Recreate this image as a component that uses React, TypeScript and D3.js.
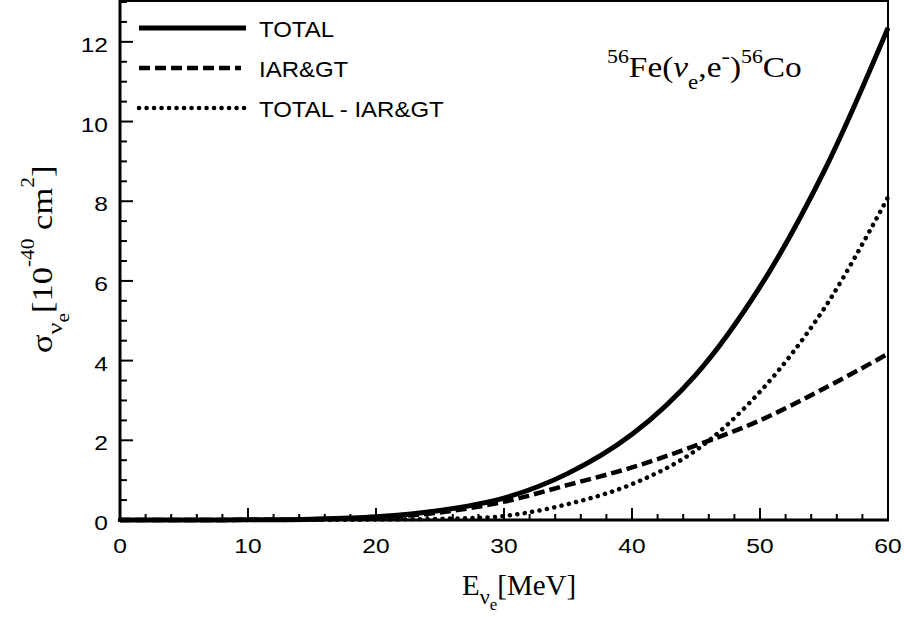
import * as d3 from "d3";

const energy = [0, 5, 10, 15, 20, 25, 30, 35, 40, 45, 50, 55, 60];
const total = [0, 0.001, 0.005, 0.02, 0.08, 0.24, 0.55, 1.17, 2.15, 3.65, 5.85, 8.75, 12.35];
const iarGt = [0, 0.001, 0.004, 0.015, 0.06, 0.19, 0.46, 0.88, 1.32, 1.87, 2.5, 3.3, 4.17];
const diff = [0, 0, 0.001, 0.004, 0.012, 0.03, 0.1, 0.4, 0.9, 1.75, 3.22, 5.3, 8.1];

const xTickLabels = [0, 10, 20, 30, 40, 50, 60];
const yTickLabels = [0, 2, 4, 6, 8, 10, 12];
const legendNames = ["TOTAL", "IAR&GT", "TOTAL - IAR&GT"];

const W = 904;
const H = 617;
const sans = "'Liberation Sans', Arial, Helvetica, sans-serif";
const serif = "'Liberation Serif', 'Times New Roman', serif";

export default function App() {
  const x = d3.scaleLinear([0, 60], [120, 888]);
  const y = d3.scaleLinear([0, 13], [520, 2]);

  const line = d3
    .line<number>()
    .x((_, i) => x(energy[i]))
    .y((d) => y(Math.max(0, d)))
    .curve(d3.curveCatmullRom.alpha(0.5));

  const styles = [
    { width: 5, dash: "none", cap: "butt" },
    { width: 4.5, dash: "11 5", cap: "butt" },
    { width: 4.5, dash: "0.1 7.4", cap: "round" },
  ];
  const series = [total, iarGt, diff];

  const xMinor = x.ticks(30);
  const yMinor = y.ticks(26);

  return (
    <svg
      width={W}
      height={H}
      viewBox={`0 0 ${W} ${H}`}
      style={{ position: "absolute", left: 0, top: 0, background: "#fff" }}
    >
      {/* curves */}
      <g fill="none" stroke="#000">
        {series.map((s, i) => (
          <path
            key={i}
            d={line(s) ?? ""}
            strokeWidth={styles[i].width}
            strokeDasharray={styles[i].dash}
            strokeLinecap={styles[i].cap as any}
          />
        ))}
      </g>

      {/* frame */}
      <rect x={120} y={1} width={768} height={519} fill="none" stroke="#000" strokeWidth={2} />
      <line x1={120} x2={120} y1={0} y2={521.5} stroke="#000" strokeWidth={3} />
      <line x1={118.5} x2={889} y1={520} y2={520} stroke="#000" strokeWidth={3} />

      {/* ticks */}
      <g stroke="#000" strokeWidth={2}>
        {xMinor.map((t) => {
          const major = t % 10 === 0;
          return (
            <line key={"x" + t} x1={x(t)} x2={x(t)} y1={520} y2={520 - (major ? 12 : 6)} />
          );
        })}
        {yMinor.map((t) => {
          const major = t % 2 === 0;
          return (
            <line key={"y" + t} x1={120} x2={120 + (major ? 13 : 7)} y1={y(t)} y2={y(t)} />
          );
        })}
      </g>

      <g fontFamily={sans} fontSize={21} fill="#000">
        {xTickLabels.map((t) => (
          <text
            key={"xl" + t}
            transform={`translate(${x(t)},553) scale(1.17,1)`}
            textAnchor="middle"
          >
            {t}
          </text>
        ))}
        {yTickLabels.map((t) => (
          <text
            key={"yl" + t}
            transform={`translate(108,${y(t) + 10}) scale(1.17,1)`}
            textAnchor="end"
          >
            {t}
          </text>
        ))}
      </g>

      {/* legend */}
      <g>
        {legendNames.map((name, i) => {
          const ly = 28 + i * 40;
          return (
            <g key={name}>
              <line
                x1={139}
                x2={i === 1 ? 241 : 246}
                y1={ly}
                y2={ly}
                stroke="#000"
                strokeWidth={styles[i].width}
                strokeDasharray={styles[i].dash}
                strokeLinecap={styles[i].cap as any}
              />
              <text
                transform={`translate(259,${ly + 9}) scale(1.09,1)`}
                fontFamily={sans}
                fontSize={22}
              >
                {name}
              </text>
            </g>
          );
        })}
      </g>

      {/* reaction annotation */}
      <text transform="translate(607,77) scale(1.15,1)" fontFamily={serif} fontSize={29}>
        <tspan fontSize={19} dy={-14}>56</tspan>
        <tspan dy={14}>Fe(</tspan>
        <tspan fontStyle="italic">ν</tspan>
        <tspan fontSize={20} dy={12}>e</tspan>
        <tspan dy={-12}>,e</tspan>
        <tspan fontSize={22} dy={-14}>-</tspan>
        <tspan dy={14}>)</tspan>
        <tspan fontSize={19} dy={-14}>56</tspan>
        <tspan dy={14}>Co</tspan>
      </text>

      {/* x axis title */}
      <text x={462} y={595} fontFamily={serif} fontSize={29}>
        E
        <tspan fontSize={22} dy={9}>ν</tspan>
        <tspan fontSize={17} dy={6}>e</tspan>
        <tspan dy={-15}>[MeV]</tspan>
      </text>

      {/* y axis title */}
      <text
        transform="translate(52,353) rotate(-90) scale(1.19,1)"
        fontFamily={serif}
        fontSize={29}
      >
        σ
        <tspan fontSize={22} dy={10}>ν</tspan>
        <tspan fontSize={18} dy={7}>e</tspan>
        <tspan dy={-17}>[10</tspan>
        <tspan fontSize={18} dy={-18}>-40</tspan>
        <tspan dy={18}> cm</tspan>
        <tspan fontSize={18} dy={-18}>2</tspan>
        <tspan dy={18}>]</tspan>
      </text>
    </svg>
  );
}
